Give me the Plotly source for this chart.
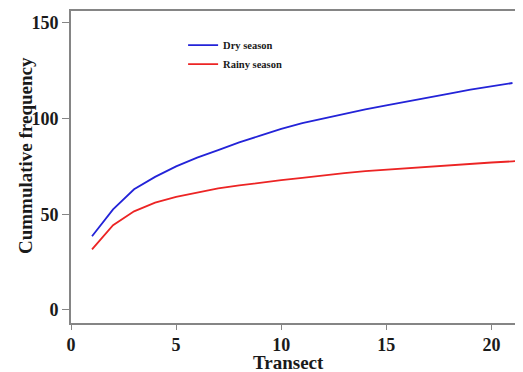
import plotly.graph_objects as go

transect_dry = list(range(1, 22))
dry_season = [38.5, 52.5, 63, 69.5, 75, 79.5, 83.5, 87.5, 91, 94.5, 97.5, 100,
              102.5, 104.7, 106.8, 109, 111, 113, 115, 116.7, 118.5]
transect_rainy = list(range(1, 23))
rainy_season = [31.6, 44.3, 51.5, 56, 59, 61.3, 63.5, 65, 66.5, 67.8, 69, 70.3,
                71.5, 72.5, 73.3, 74.1, 74.9, 75.6, 76.3, 77, 77.6, 78.2]
x_ticks = [0, 5, 10, 15, 20]
y_ticks = [0, 50, 100, 150]

SERIF = "Liberation Serif"
AXIS_COLOR = "#858585"
TEXT = "#1a1a1a"

fig = go.Figure()
fig.add_trace(go.Scatter(x=transect_dry, y=dry_season, mode="lines", name="Dry season",
                         line=dict(color="#2323d8", width=1.8)))
fig.add_trace(go.Scatter(x=transect_rainy, y=rainy_season, mode="lines", name="Rainy season",
                         line=dict(color="#ec2424", width=1.8)))

# page body adds an 8px offset; figure sized so plot edges land where the reference has them
fig.update_layout(
    width=515, height=364,
    margin=dict(l=63, r=0, t=3, b=49),
    paper_bgcolor="white", plot_bgcolor="white",
    showlegend=True,
    legend=dict(x=0.248, y=0.937, xanchor="left", yanchor="top",
                bgcolor="rgba(0,0,0,0)", tracegroupgap=0,
                font=dict(family=SERIF, size=10.5, color=TEXT, weight="bold")),
    xaxis=dict(range=[0, 21.5], tickvals=x_ticks, showgrid=False, zeroline=False,
               automargin=False,
               showline=True, linecolor=AXIS_COLOR, linewidth=1.6, mirror=True,
               ticks="outside", ticklen=5, tickcolor=AXIS_COLOR, tickwidth=1.3,
               tickfont=dict(family=SERIF, size=18, color=TEXT, weight="bold")),
    yaxis=dict(range=[-6.8, 156.1], tickvals=y_ticks, showgrid=False, zeroline=False,
               automargin=False,
               showline=True, linecolor=AXIS_COLOR, linewidth=1.6, mirror=False,
               ticks="outside", ticklen=7, tickcolor=AXIS_COLOR, tickwidth=1.3,
               tickfont=dict(family=SERIF, size=18, color=TEXT, weight="bold")),
    annotations=[
        dict(text="Transect", xref="paper", yref="paper", x=0.482, y=-0.128,
             xanchor="center", yanchor="middle", showarrow=False,
             font=dict(family=SERIF, size=19, color=TEXT, weight="bold")),
        dict(text="Cummulative frequency", xref="paper", yref="paper", x=-0.102, y=0.538,
             xanchor="center", yanchor="middle", showarrow=False, textangle=-90,
             font=dict(family=SERIF, size=19, color=TEXT, weight="bold")),
    ],
)

fig.write_html("out.html")
